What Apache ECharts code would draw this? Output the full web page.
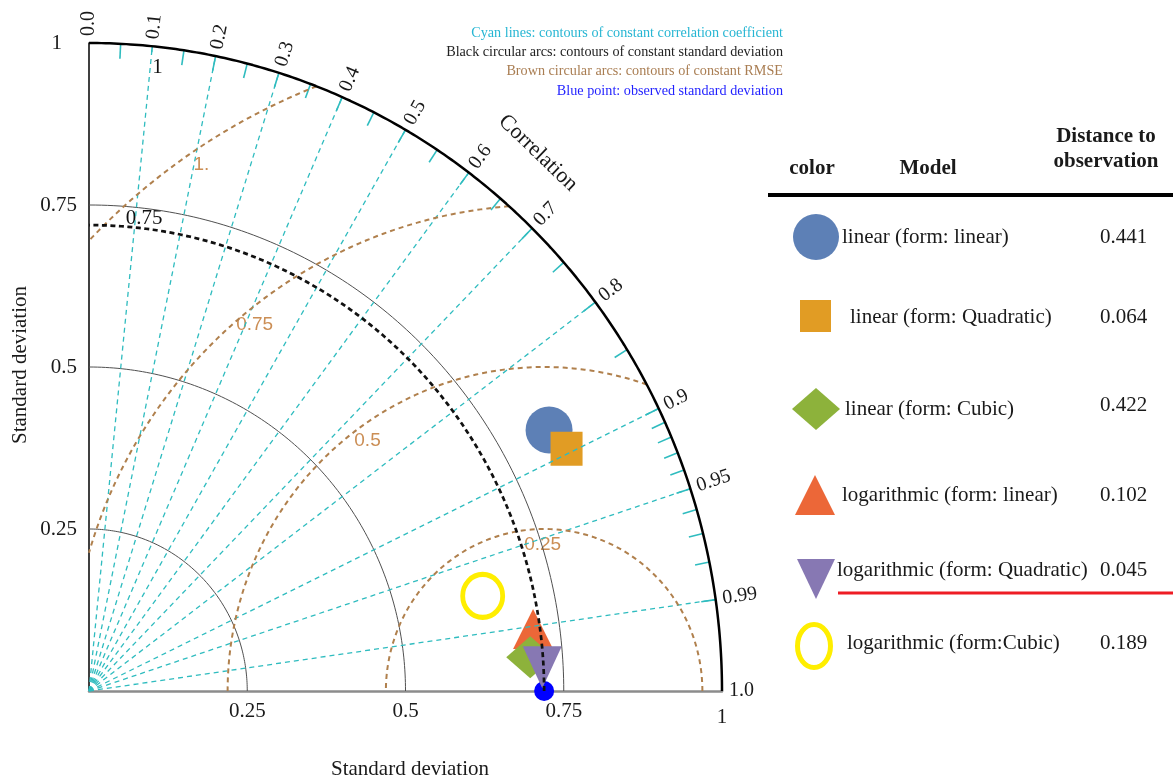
<!DOCTYPE html>
<html>
<head>
<meta charset="utf-8">
<title>Taylor diagram</title>
<script src="https://cdn.jsdelivr.net/npm/echarts@6/dist/echarts.min.js"></script>
<style>
  html, body { margin: 0; padding: 0; background: #ffffff; }
  #chart { width: 1173px; height: 778px; }
</style>
</head>
<body>
<div id="chart"></div>
<script>
// ---- data ----
const modelNames = [
  'linear (form: linear)',
  'linear (form: Quadratic)',
  'linear (form: Cubic)',
  'logarithmic (form: linear)',
  'logarithmic (form: Quadratic)',
  'logarithmic (form:Cubic)'
];
const modelStd = [0.831, 0.842, 0.699, 0.708, 0.717, 0.639];
const modelCorr = [0.8746, 0.896, 0.9972, 0.9908, 0.9987, 0.9733];
const modelDistance = ['0.441', '0.064', '0.422', '0.102', '0.045', '0.189'];
const obsStd = 0.719;

const stdLevels = [0.25, 0.5, 0.75];
const stdArcLabels = ['1', '0.75'];
const rmseLevels = [0.25, 0.5, 0.75, 1];
const rmseLabels = ['0.25', '0.5', '0.75', '1.'];
const corrLines = [0.1, 0.2, 0.3, 0.4, 0.5, 0.6, 0.7, 0.8, 0.9, 0.95, 0.99];
const corrTicks = [0.05, 0.1, 0.15, 0.2, 0.25, 0.3, 0.35, 0.4, 0.45, 0.5, 0.55, 0.6, 0.65, 0.7,
  0.75, 0.8, 0.85, 0.9, 0.91, 0.92, 0.93, 0.94, 0.95, 0.96, 0.97, 0.98, 0.99];
const corrLabels = ['0.0', '0.1', '0.2', '0.3', '0.4', '0.5', '0.6', '0.7', '0.8', '0.9', '0.95', '0.99', '1.0'];
const axisTickValues = [0.25, 0.5, 0.75, 1];
const axisTickLabels = ['0.25', '0.5', '0.75', '1'];

const noteLines = [
  'Cyan lines: contours of constant correlation coefficient',
  'Black circular arcs: contours of constant standard deviation',
  'Brown circular arcs: contours of constant RMSE',
  'Blue point: observed standard deviation'
];

// ---- styles / layout ----
const SERIF = '"Liberation Serif", "Times New Roman", serif';
const SANS = '"Liberation Sans", Arial, sans-serif';
const CYAN = '#2fbcbf';
const BROWN = '#b0804d';
const noteColors = ['#27b6d3', '#222222', '#a97d52', '#1f1fff'];
const markerColors = ['#5d80b6', '#e19c24', '#8db23b', '#ec6738', '#8778b3', '#ffee00'];
const ELLIPSE = 'path://M0,50A50,50,0,1,1,100,50A50,50,0,1,1,0,50Z';
const markerSymbols = ['circle', 'rect', 'diamond', 'triangle', 'triangle', ELLIPSE];
const markerSizes = [47, [32, 34], [48, 42], [40, 40], [39, 42], [40, 43]];
const markerRotate = [0, 0, 0, 0, 180, 0];
const drawOrder = [0, 1, 3, 2, 4, 5];
const tickLen = 0.023;
// label placement: std labels along rays near the y axis, RMSE labels by angle around the reference point
const stdLabelAngle = [83.6, 83.2];
const stdLabelRadius = [0.971, 0.737];
const stdLabelPad = [[3, 3, 7, 4.5], [3, 1, 6, 16]];
const rmseLabelAngle = [90.6, 125.8, 129, 123.7];
const rmseLabelScale = [0.9, 0.954, 0.969, 0.976];

const deg = Math.PI / 180;
function polarXY(s, c) {
  return [s * c, s * Math.sqrt(Math.max(0, 1 - c * c))];
}
function arcPoints(cx, r, t0, t1, n) {
  const pts = [];
  for (let i = 0; i <= n; i++) {
    const t = t0 + (t1 - t0) * i / n;
    pts.push([cx + r * Math.cos(t), r * Math.sin(t)]);
  }
  return pts;
}
function lineSeries(data, color, width, type) {
  return {
    type: 'line', data: data, symbol: 'none', showSymbol: false, clip: false,
    silent: true, animation: false, smooth: false,
    lineStyle: { color: color, width: width, type: type }
  };
}

const series = [];

// constant standard deviation arcs
stdLevels.forEach(s => series.push(lineSeries(arcPoints(0, s, 0, Math.PI / 2, 120), '#505050', 1, 'solid')));

// correlation rays
corrLines.forEach(c => series.push(lineSeries([[0, 0], polarXY(1, c)], CYAN, 1.3, [5, 4])));

// RMSE arcs centred on the reference point, clipped to the quadrant
rmseLevels.forEach(R => {
  const c1 = (1 - obsStd * obsStd - R * R) / (2 * obsStd * R);
  const t0 = c1 >= 1 ? 0 : Math.acos(c1);
  const c2 = -obsStd / R;
  const t1 = c2 <= -1 ? Math.PI : Math.acos(c2);
  series.push(lineSeries(arcPoints(obsStd, R, t0, t1, 160), BROWN, 2, [5, 4]));
});

// reference standard deviation arc
series.push(lineSeries(arcPoints(0, obsStd, 0, Math.PI / 2, 200), '#111111', 2.7, [5, 3.5]));

// outer arc
series.push(lineSeries(arcPoints(0, 1, 0, Math.PI / 2, 240), '#000000', 2.5, 'solid'));

// correlation ticks on the outer arc
series.push({
  type: 'custom', clip: false, silent: true, animation: false,
  data: corrTicks.map(c => [c]),
  renderItem: function (params, api) {
    const c = api.value(0);
    const p1 = api.coord(polarXY(1, c));
    const p2 = api.coord(polarXY(1 - tickLen, c));
    return { type: 'line', shape: { x1: p1[0], y1: p1[1], x2: p2[0], y2: p2[1] },
      style: { stroke: CYAN, lineWidth: 1.6 } };
  }
});

// correlation tick labels, rotated along the rays
series.push({
  type: 'custom', clip: false, silent: true, animation: false,
  data: corrLabels.map((t, i) => [parseFloat(t), i]),
  renderItem: function (params, api) {
    const c = api.value(0);
    const i = api.value(1);
    const o = api.coord([0, 0]);
    const p = api.coord(polarXY(1, c));
    const ang = Math.atan2(o[1] - p[1], p[0] - o[0]);
    return {
      type: 'text', x: p[0] + 7 * Math.cos(ang), y: p[1] - 7 * Math.sin(ang), rotation: ang,
      style: { text: corrLabels[i], font: '20px ' + SERIF, fill: '#1a1a1a',
        align: 'left', verticalAlign: 'middle', textAlign: 'left', textVerticalAlign: 'middle' }
    };
  }
});

// standard deviation arc labels (white boxes); the box is shifted so the text stays centred
series.push({
  type: 'custom', clip: false, silent: true, animation: false,
  data: stdArcLabels.map((t, i) => [parseFloat(t), i]),
  renderItem: function (params, api) {
    const i = api.value(1);
    const r = stdLabelRadius[i];
    const a = stdLabelAngle[i] * deg;
    const p = api.coord([r * Math.cos(a), r * Math.sin(a)]);
    const pad = stdLabelPad[i];
    return {
      type: 'text', x: p[0] + (pad[1] - pad[3]) / 2, y: p[1] + (pad[2] - pad[0]) / 2,
      style: { text: stdArcLabels[i], font: '21px ' + SERIF, fill: '#111111',
        align: 'center', verticalAlign: 'middle', textAlign: 'center', textVerticalAlign: 'middle',
        backgroundColor: '#ffffff', padding: pad }
    };
  }
});

// RMSE labels
series.push({
  type: 'custom', clip: false, silent: true, animation: false,
  data: rmseLevels.map((R, i) => [R, i]),
  renderItem: function (params, api) {
    const R = api.value(0);
    const i = api.value(1);
    const d = R * rmseLabelScale[i];
    const a = rmseLabelAngle[i] * deg;
    const p = api.coord([obsStd + d * Math.cos(a), d * Math.sin(a)]);
    return {
      type: 'text', x: p[0], y: p[1],
      style: { text: rmseLabels[i], font: '19px ' + SANS, fill: '#c8884c', opacity: 0.95,
        align: 'center', verticalAlign: 'middle', textAlign: 'center', textVerticalAlign: 'middle' }
    };
  }
});

// observed point
series.push({
  type: 'scatter', name: 'observation', clip: false, animation: false,
  data: [polarXY(obsStd, 1)], symbol: 'circle', symbolSize: 20,
  itemStyle: { color: '#0000ff', opacity: 1 }
});

// model points
drawOrder.forEach(k => {
  const isRing = k === 5;
  series.push({
    type: 'scatter', name: modelNames[k], clip: false, animation: false,
    data: [polarXY(modelStd[k], modelCorr[k])],
    symbol: markerSymbols[k], symbolSize: markerSizes[k], symbolRotate: markerRotate[k],
    itemStyle: isRing
      ? { color: 'rgba(0,0,0,0)', borderColor: markerColors[k], borderWidth: 5, opacity: 1 }
      : { color: markerColors[k], opacity: 1 }
  });
});

// ---- table on the right ----
const rowY = [237, 317, 409, 495, 570, 643];
const nameX = [842, 850, 845, 842, 837, 847];
const valueY = [237, 317, 405, 495, 570, 643];
const graphics = [];

noteLines.forEach((t, i) => graphics.push({
  type: 'text', x: 783, y: 33 + i * 19.3, silent: true,
  style: { text: t, font: '14.2px ' + SERIF, fill: noteColors[i], align: 'right', verticalAlign: 'middle',
    textAlign: 'right', textVerticalAlign: 'middle' }
}));

graphics.push({ type: 'text', x: 538, y: 153, rotation: -0.765, silent: true,
  style: { text: 'Correlation', font: '22px ' + SERIF, fill: '#1a1a1a', align: 'center', verticalAlign: 'middle',
    textAlign: 'center', textVerticalAlign: 'middle' } });
graphics.push({ type: 'text', x: 410, y: 769, silent: true,
  style: { text: 'Standard deviation', font: '21px ' + SERIF, fill: '#1a1a1a', align: 'center', verticalAlign: 'middle',
    textAlign: 'center', textVerticalAlign: 'middle' } });
graphics.push({ type: 'text', x: 20, y: 365, rotation: Math.PI / 2, silent: true,
  style: { text: 'Standard deviation', font: '21px ' + SERIF, fill: '#1a1a1a', align: 'center', verticalAlign: 'middle',
    textAlign: 'center', textVerticalAlign: 'middle' } });

const headStyle = { font: 'bold 21px ' + SERIF, fill: '#1a1a1a', align: 'center', verticalAlign: 'middle',
  textAlign: 'center', textVerticalAlign: 'middle' };
graphics.push({ type: 'text', x: 812, y: 169, silent: true, style: Object.assign({ text: 'color' }, headStyle) });
graphics.push({ type: 'text', x: 928, y: 169, silent: true, style: Object.assign({ text: 'Model' }, headStyle) });
graphics.push({ type: 'text', x: 1106, y: 137, silent: true, style: Object.assign({ text: 'Distance to' }, headStyle) });
graphics.push({ type: 'text', x: 1106, y: 162, silent: true, style: Object.assign({ text: 'observation' }, headStyle) });
graphics.push({ type: 'rect', silent: true, shape: { x: 768, y: 193, width: 405, height: 4 }, style: { fill: '#000000' } });
graphics.push({ type: 'rect', silent: true, shape: { x: 838, y: 591.5, width: 335, height: 3 }, style: { fill: '#ee1c24' } });

// legend symbols
graphics.push({ type: 'circle', silent: true, shape: { cx: 816, cy: 237, r: 23 }, style: { fill: markerColors[0] } });
graphics.push({ type: 'rect', silent: true, shape: { x: 800, y: 300, width: 31, height: 32 }, style: { fill: markerColors[1] } });
graphics.push({ type: 'polygon', silent: true, shape: { points: [[816, 388], [840, 409], [816, 430], [792, 409]] }, style: { fill: markerColors[2] } });
graphics.push({ type: 'polygon', silent: true, shape: { points: [[815, 475], [835, 515], [795, 515]] }, style: { fill: markerColors[3] } });
graphics.push({ type: 'polygon', silent: true, shape: { points: [[797, 559], [835, 559], [816, 599]] }, style: { fill: markerColors[4] } });
graphics.push({ type: 'ellipse', silent: true, shape: { cx: 814, cy: 646, rx: 16.5, ry: 21.5 }, style: { fill: 'none', stroke: markerColors[5], lineWidth: 5 } });

modelNames.forEach((n, i) => {
  graphics.push({ type: 'text', x: nameX[i], y: rowY[i], silent: true,
    style: { text: n, font: '21px ' + SERIF, fill: '#1a1a1a', align: 'left', verticalAlign: 'middle',
      textAlign: 'left', textVerticalAlign: 'middle' } });
  graphics.push({ type: 'text', x: 1100, y: valueY[i], silent: true,
    style: { text: modelDistance[i], font: '21px ' + SERIF, fill: '#1a1a1a', align: 'left', verticalAlign: 'middle',
      textAlign: 'left', textVerticalAlign: 'middle' } });
});

function tickText(v) {
  const i = axisTickValues.indexOf(v);
  return i < 0 ? '' : axisTickLabels[i];
}

const chart = echarts.init(document.getElementById('chart'), null, { renderer: 'canvas' });
chart.setOption({
  animation: false,
  backgroundColor: '#ffffff',
  grid: { left: 89, top: 43, width: 633, height: 648, containLabel: false, outerBoundsMode: 'none' },
  xAxis: {
    type: 'value', min: 0, max: 1, interval: 0.25,
    splitLine: { show: false }, axisTick: { show: false },
    axisLine: { show: true, onZero: false, lineStyle: { color: '#8c8c8c', width: 2.5 } },
    axisLabel: { margin: 10, fontFamily: SERIF, fontSize: 21, color: '#1a1a1a',
      formatter: v => (v === 1 ? '{one|1}' : tickText(v)),
      rich: { one: { fontFamily: SERIF, fontSize: 21, color: '#1a1a1a', padding: [6, 0, 0, 0] } },
      showMinLabel: true, showMaxLabel: true }
  },
  yAxis: {
    type: 'value', min: 0, max: 1, interval: 0.25,
    splitLine: { show: false }, axisTick: { show: false },
    axisLine: { show: true, onZero: false, lineStyle: { color: '#000000', width: 1.5 } },
    axisLabel: { margin: 12, fontFamily: SERIF, fontSize: 21, color: '#1a1a1a',
      formatter: v => (v === 1 ? '{one|1}' : tickText(v)),
      rich: { one: { fontFamily: SERIF, fontSize: 21, color: '#1a1a1a', padding: [0, 15, 0, 0] } },
      showMinLabel: true, showMaxLabel: true }
  },
  series: series,
  graphic: { elements: graphics }
});
</script>
</body>
</html>
